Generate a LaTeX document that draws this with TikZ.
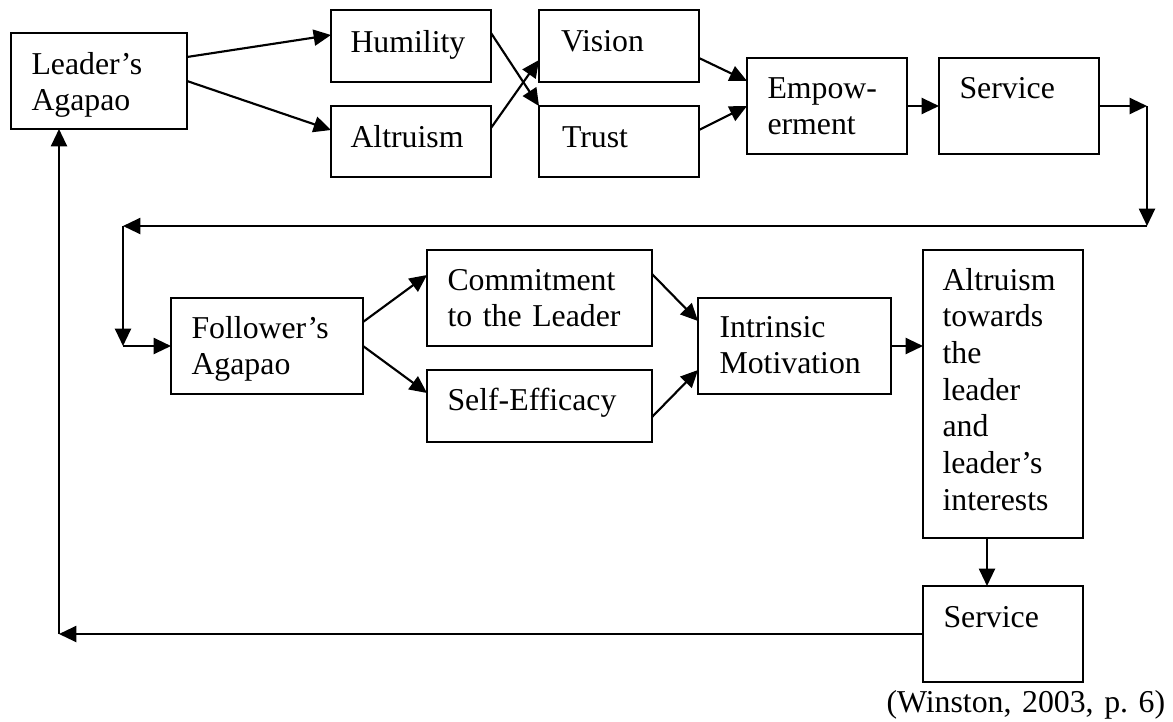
\documentclass[tikz,border=0pt]{standalone}
\usepackage{fontspec}
\setmainfont{Liberation Serif}
\usetikzlibrary{arrows.meta}
\frenchspacing
\begin{document}
\begin{tikzpicture}[x=0.75pt,y=-0.75pt,
  box/.style 2 args={draw, line width=1.7pt, inner sep=0pt, outer sep=0pt,
    anchor=north west, minimum width=#1*0.75pt, minimum height=#2*0.75pt},
  lbl/.style={anchor=base west, inner sep=0pt, outer sep=0pt, align=left,
    text width=150pt, font=\fontsize{23.85pt}{27.5pt}\selectfont},
  arr/.style={line width=1.6pt, -{Triangle[length=13pt,width=12pt]}}]
\useasboundingbox (0,0) rectangle (1173,721);

% leader's side
\node[box={176}{96}]  (lead) at (11,33)   {};
\node[box={160}{72}]  (hum)  at (331,10)  {};
\node[box={160}{71}]  (alt)  at (331,106) {};
\node[box={160}{72}]  (vis)  at (539,10)  {};
\node[box={160}{71}]  (tru)  at (539,106) {};
\node[box={160}{96}]  (emp)  at (747,58)  {};
\node[box={160}{96}]  (ser)  at (939,58)  {};

% follower's side
\node[box={192}{96}]  (fol)  at (171,298) {};
\node[box={225}{96}]  (com)  at (427,250) {};
\node[box={225}{72}]  (self) at (427,370) {};
\node[box={193}{96}]  (intr) at (698,298) {};
\node[box={160}{288}] (alt2) at (923,250) {};
\node[box={160}{96}]  (ser2) at (923,586) {};

% box texts
\node[lbl] (leadT) at (31.5,74)  {Leader’s\\Agapao};
\node[lbl] (humT)  at (350.5,52) {Humility};
\node[lbl] (altT)  at (350.5,147) {Altruism};
\node[lbl] (visT)  at (561,51)   {Vision};
\node[lbl] (truT)  at (562,147)  {Trust};
\node[lbl] (empT)  at (767.5,98) {Empow-\\erment};
\node[lbl] (serT)  at (959.5,98) {Service};
\node[lbl] (folT)  at (191.5,338) {Follower’s\\Agapao};
\node[lbl] (comT)  at (447.5,290) {Commitment\\to the Leader};
\node[lbl] (selfT) at (447.5,410) {Self-Efficacy};
\node[lbl] (intrT) at (719.5,337) {Intrinsic\\Motivation};
\node[lbl] (alt2T) at (942.5,290) {Altruism\\towards\\the\\leader\\and\\leader’s\\interests};
\node[lbl] (ser2T) at (943.5,627) {Service};
\node[lbl, text width=215pt] (cite) at (886.5,712) {(Winston, 2003, p. 6)};

% bends of the loop connectors
\coordinate (cA) at (1147,106);
\coordinate (cB) at (1147,226);
\coordinate (cC) at (123,226);
\coordinate (cD) at (123,346);
\coordinate (cE) at (59,634);

% leader's chain
\draw[arr] ([shift={(0,24)}]lead.north east) -- ([shift={(0,-11)}]hum.west);
\draw[arr] (lead.east) -- ([shift={(0,-11.5)}]alt.west);
\draw[arr] ([shift={(0,-13)}]hum.east) -- (tru.north west);
\draw[arr] ([shift={(0,-13.5)}]alt.east) -- ([shift={(0,14)}]vis.west);
\draw[arr] ([shift={(0,12)}]vis.east) -- ([shift={(0,-25)}]emp.west);
\draw[arr] ([shift={(0,-11.5)}]tru.east) -- (emp.west);
\draw[arr] (emp.east) -- (ser.west);

% hand-over to the follower
\draw[arr] (ser.east) -- (cA);
\draw[arr] (cA) -- (cB);
\draw[arr] (cB) -- (cC);
\draw[arr] (cC) -- (cD);
\draw[arr] (cD) -- (fol.west);

% follower's chain
\draw[arr] ([shift={(0,-24)}]fol.east) -- ([shift={(0,-23)}]com.west);
\draw[arr] (fol.east) -- ([shift={(0,-13)}]self.west);
\draw[arr] ([shift={(0,-24)}]com.east) -- ([shift={(0,-25)}]intr.west);
\draw[arr] ([shift={(0,11)}]self.east) -- ([shift={(0,24)}]intr.west);
\draw[arr] (intr.east) -- (intr.east -| alt2.west);
\draw[arr] ([shift={(64,0)}]alt2.south west) -- ([shift={(64,0)}]ser2.north west);

% back to the leader
\draw[arr] (ser2.west) -- (cE);
\draw[arr] (cE) -- ([shift={(48,0)}]lead.south west);
\end{tikzpicture}
\end{document}
